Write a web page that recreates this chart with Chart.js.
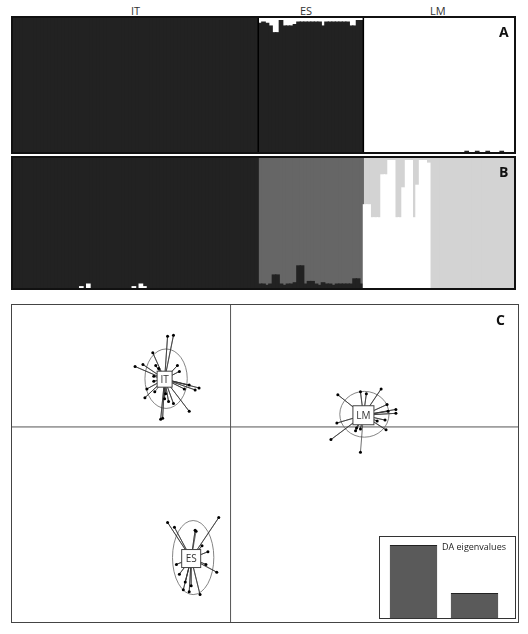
<!DOCTYPE html>
<html><head><meta charset="utf-8">
<script src="https://cdn.jsdelivr.net/npm/chart.js@4"></script>
<style>
body{margin:0;background:#fff;width:528px;height:634px;position:relative;font-family:"Open Sans",sans-serif;overflow:hidden}
.box{position:absolute;border:2px solid #111;box-sizing:border-box}
.lbl{position:absolute;font-size:11px;color:#333333}
.pl{position:absolute;font-weight:bold;font-size:14px;font-family:"Open Sans",sans-serif;color:#111}
canvas{display:block}
</style></head><body>
<div class="lbl" style="left:131px;top:3px">IT</div>
<div class="lbl" style="left:300px;top:3px">ES</div>
<div class="lbl" style="left:430px;top:3px">LM</div>
<div class="box" style="left:11px;top:16px;width:505px;height:138px"><canvas id="a" width="501" height="134"></canvas></div>
<div class="box" style="left:11px;top:156px;width:505px;height:134px"><canvas id="b" width="501" height="130"></canvas></div>
<div class="pl" style="left:499px;top:22px">A</div>
<div class="pl" style="left:499px;top:162px">B</div>
<div class="box" style="left:11px;top:304px;width:508px;height:319px;border-width:1px;border-color:#444"><canvas id="c" width="506" height="317"></canvas></div>
<div class="pl" style="left:496px;top:310px">C</div>
<div class="box" style="left:379px;top:536px;width:137px;height:83px;border-width:1px;border-color:#333;background:#fff"><canvas id="d" width="135" height="81"></canvas></div>
<script>
// ---------- data ----------
const nIT = 70, nES = 30, nLM = 43;
// Panel A: dark-cluster fraction per individual
const aIT = Array(nIT).fill(1);
const aES = [0.96,0.97,0.96,0.94,0.89,0.89,0.98,0.94,0.94,0.94,0.95,0.97,0.97,0.97,0.97,0.97,0.97,0.97,0.94,0.97,0.97,0.97,0.97,0.97,0.97,0.97,0.94,0.94,0.98,0.98];
const aLM = [0,0,0,0,0,0,0,0,0,0,0,0,0,0,0,0,0,0,0,0,0,0,0,0,0,0,0,0,0,0.005,0,0,0.005,0,0,0.005,0,0,0,0.005,0,0,0];
// Panel B: white (bottom), dark, gray, light gray per group
const bITwhite = [0,0,0,0,0,0,0,0,0,0,0,0,0,0,0,0,0,0,0,0.01,0,0.03,0,0,0,0,0,0,0,0,0,0,0,0,0.01,0,0.03,0.01,0,0,0,0,0,0,0,0,0,0,0,0,0,0,0,0,0,0,0,0,0,0,0,0,0,0,0,0,0,0,0,0];
const bESdark = [0.03,0.03,0.02,0.03,0.10,0.10,0.03,0.02,0.03,0.03,0.04,0.17,0.17,0.03,0.05,0.05,0.03,0.02,0.04,0.03,0.03,0.02,0.03,0.03,0.03,0.03,0.03,0.07,0.07,0.03];
const bLMlight = [0.36,0.36,0.46,0.46,0.46,0.13,0.13,0.02,0.02,0.46,0.46,0.23,0.02,0.02,0.46,0.21,0.02,0.02,0.04];
// Panel C: DA coordinates
const itCentre = [-6.7, 4.9], lmCentre = [13.5, 1.2], esCentre = [-4.0, -13.5];
const itPx = [166,172,151,133,141,154,157,176,178,152,152,188,198,194,183,145,143,164,167,172,188,159,161,163,153];
const itPy = [333,332,350,364,362,363,366,363,369,374,379,383,386,388,387,387,396,392,400,402,410,418,417,397,390];
const lmPx = [339,362,368,383,389,398,398,390,387,388,379,362,358,357,332,338,362];
const lmPy = [393,390,392,387,403,408,412,410,419,429,420,428,427,430,439,422,452];
const esPx = [166,173,194,218,207,201,175,178,216,205,190,188,182,199,184,195];
const esPy = [524,529,532,519,554,548,567,577,575,567,589,595,593,598,585,533];
const eigen = [90, 31];
const eigenLabels = ['1','2'];

const DARK='#222222', GRAY='#666666', LIGHT='#d3d3d3', WHITE='#ffffff';
const n = nIT+nES+nLM;
const labels = Array.from({length:n},(_,i)=>String(i+1));
const barOpts = {responsive:false,animation:false,devicePixelRatio:1,
  plugins:{legend:{display:false},tooltip:{enabled:false}},
  layout:{padding:0},
  scales:{x:{stacked:true,display:false},y:{stacked:true,display:false,min:0,max:1}}};
const ds=(d,c)=>({data:d.map(v=>v>0.0001?v:null),backgroundColor:c,borderWidth:0,inflateAmount:0.6,categoryPercentage:1,barPercentage:1});

// Panel A
const aDark=[...aIT,...aES,...aLM];
new Chart(document.getElementById('a'),{type:'bar',data:{labels,datasets:[
  ds(aDark,DARK), ds(aDark.map(v=>1-v),WHITE)]},options:barOpts,
  plugins:[{id:'sep',afterDraw(ch){const x=ch.scales.x;const c=ch.ctx;c.save();c.strokeStyle='#000';c.lineWidth=1.5;
    [nIT,nIT+nES].forEach(k=>{const p=(x.getPixelForValue(k-1)+x.getPixelForValue(k))/2;c.beginPath();c.moveTo(p,0);c.lineTo(p,ch.height);c.stroke();});c.restore();}}]});

// Panel B
const z=k=>Array(k).fill(0);
const wh=[...bITwhite,...z(nES),...bLMlight.map(v=>1-v),...z(nLM-bLMlight.length)];
const dk=[...bITwhite.map(v=>1-v),...bESdark,...z(nLM)];
const gr=[...z(nIT),...bESdark.map(v=>1-v),...z(nLM)];
const lt=[...z(nIT),...z(nES),...bLMlight,...Array(nLM-bLMlight.length).fill(1)];
new Chart(document.getElementById('b'),{type:'bar',data:{labels,datasets:[
  ds(wh,WHITE),ds(dk,DARK),ds(gr,GRAY),ds(lt,LIGHT)]},options:barOpts});

// Panel C
const toU=(px,py)=>px.map((x,i)=>({x:(x-230)/10,y:(426-py[i])/10}));
function spokes(c,px,py){const pts=toU(px,py);const out=[];pts.forEach(p=>{out.push({x:c[0],y:c[1]});out.push(p);});return out;}
const groups=[{n:'IT',c:itCentre,px:itPx,py:itPy,rx:2.15,ry:3.05,bw:15,bh:16},
  {n:'LM',c:lmCentre,px:lmPx,py:lmPy,rx:2.5,ry:2.35,bw:21,bh:19},
  {n:'ES',c:esCentre,px:esPx,py:esPy,rx:2.1,ry:3.8,bw:19,bh:18}];
const ellC={IT:[-6.55,4.95],LM:[13.6,1.3],ES:[-3.8,-13.4]};
new Chart(document.getElementById('c'),{type:'scatter',
  data:{datasets:groups.map(g=>({data:spokes(g.c,g.px,g.py),showLine:true,borderColor:'#333',borderWidth:0.7,
    pointRadius:ctx=>ctx.dataIndex%2?1.5:0,pointBackgroundColor:'#000',pointBorderWidth:0}))},
  options:{responsive:false,animation:false,devicePixelRatio:1,layout:{padding:0},
    plugins:{legend:{display:false},tooltip:{enabled:false}},
    scales:{x:{display:false,min:-21.8,max:28.8},y:{display:false,min:-19.6,max:12.1}}},
  plugins:[{id:'deco',beforeDatasetsDraw(ch){const c=ch.ctx,x=ch.scales.x,y=ch.scales.y;c.save();
      c.strokeStyle='#555';c.lineWidth=1;c.beginPath();
      c.moveTo(x.getPixelForValue(0),0);c.lineTo(x.getPixelForValue(0),ch.height);
      c.moveTo(0,y.getPixelForValue(0));c.lineTo(ch.width,y.getPixelForValue(0));c.stroke();
      c.strokeStyle='#777';c.lineWidth=0.9;
      groups.forEach(g=>{const e=ellC[g.n];const cx=x.getPixelForValue(e[0]),cy=y.getPixelForValue(e[1]);
        const rx=x.getPixelForValue(e[0]+g.rx)-cx, ry=cy-y.getPixelForValue(e[1]+g.ry);
        c.beginPath();c.ellipse(cx,cy,rx,ry,0,0,Math.PI*2);c.stroke();});
      c.restore();},
    afterDatasetsDraw(ch){const c=ch.ctx,x=ch.scales.x,y=ch.scales.y;c.save();
      groups.forEach(g=>{const cx=x.getPixelForValue(g.c[0]),cy=y.getPixelForValue(g.c[1]);
        c.fillStyle='#fff';c.strokeStyle='#444';c.lineWidth=1;
        c.fillRect(cx-g.bw/2,cy-g.bh/2,g.bw,g.bh);c.strokeRect(cx-g.bw/2,cy-g.bh/2,g.bw,g.bh);
        c.fillStyle='#333';c.font='10px "Open Sans"';c.textAlign='center';c.textBaseline='middle';c.fillText(g.n,cx,cy+0.5);});
      c.restore();}}]});

// Inset eigenvalues
new Chart(document.getElementById('d'),{type:'bar',data:{labels:eigenLabels,datasets:[{data:eigen,backgroundColor:'#5a5a5a',borderColor:'#222',borderWidth:1,categoryPercentage:0.82,barPercentage:0.95}]},
  options:{responsive:false,animation:false,devicePixelRatio:1,layout:{padding:{left:3,right:10,top:0,bottom:0}},
    plugins:{legend:{display:false},tooltip:{enabled:false}},
    scales:{x:{display:false},y:{display:false,min:0,max:100}}},
  plugins:[{id:'t',afterDraw(ch){const c=ch.ctx;c.save();c.fillStyle='#222';c.font='9px "Open Sans"';c.textAlign='left';c.textBaseline='top';c.fillText('DA eigenvalues',62,6);c.restore();}}]});
</script>
</body></html>
